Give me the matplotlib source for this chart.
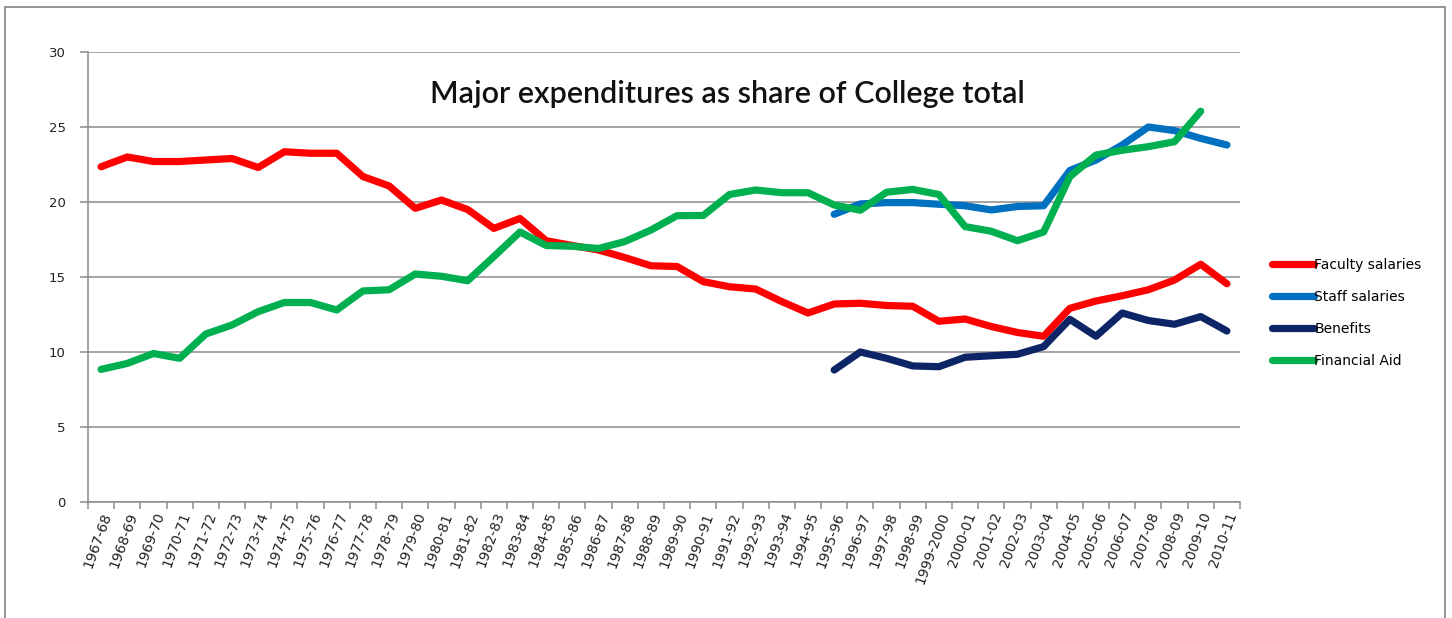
import numpy as np
import matplotlib.pyplot as plt
from matplotlib.patches import Rectangle

# academic years on the x axis
years = ["1967-68", "1968-69", "1969-70", "1970-71", "1971-72", "1972-73", "1973-74",
         "1974-75", "1975-76", "1976-77", "1977-78", "1978-79", "1979-80", "1980-81",
         "1981-82", "1982-83", "1983-84", "1984-85", "1985-86", "1986-87", "1987-88",
         "1988-89", "1989-90", "1990-91", "1991-92", "1992-93", "1993-94", "1994-95",
         "1995-96", "1996-97", "1997-98", "1998-99", "1999-2000", "2000-01", "2001-02",
         "2002-03", "2003-04", "2004-05", "2005-06", "2006-07", "2007-08", "2008-09",
         "2009-10", "2010-11"]

faculty = [22.35, 23.0, 22.7, 22.7, 22.8, 22.9, 22.3, 23.35, 23.25, 23.25, 21.7, 21.07,
           19.58, 20.13, 19.5, 18.24, 18.9, 17.42, 17.1, 16.8, 16.3, 15.75, 15.7, 14.69,
           14.35, 14.2, 13.36, 12.6, 13.2, 13.25, 13.1, 13.05, 12.05, 12.2, 11.7, 11.3,
           11.05, 12.91, 13.4, 13.75, 14.15, 14.8, 15.85, 14.55]

staff = [None] * 28 + [19.18, 19.87, 19.96, 19.96, 19.85, 19.75, 19.47, 19.7, 19.75,
                       22.1, 22.8, 23.8, 25.0, 24.76, 24.24, 23.8]

benefits = [None] * 28 + [8.8, 10.0, 9.58, 9.07, 9.02, 9.65, 9.75, 9.85, 10.36, 12.18,
                          11.05, 12.6, 12.1, 11.85, 12.36, 11.4]

aid = [8.84, 9.24, 9.9, 9.58, 11.2, 11.8, 12.69, 13.3, 13.3, 12.8, 14.07, 14.15, 15.2,
       15.05, 14.75, 16.36, 18.0, 17.1, 17.05, 16.9, 17.36, 18.13, 19.09, 19.1, 20.5,
       20.8, 20.62, 20.62, 19.8, 19.45, 20.65, 20.84, 20.5, 18.36, 18.05, 17.42, 18.0,
       21.69, 23.13, 23.45, 23.69, 24.02, 26.05, None]

series = [("Faculty salaries", faculty, "#FF0000"),
          ("Staff salaries", staff, "#0070C0"),
          ("Benefits", benefits, "#0D2466"),
          ("Financial Aid", aid, "#00B050")]

W, H = 1452, 618
fig = plt.figure(figsize=(W / 100, H / 100), dpi=100)
ax = fig.add_axes([88 / W, 1 - 502 / H, (1240 - 88) / W, (502 - 52) / H])

x = np.arange(len(years))
for name, vals, col in series:
    y = np.array([np.nan if v is None else v for v in vals], dtype=float)
    ax.plot(x, y, color=col, lw=5.2, solid_capstyle="round", solid_joinstyle="round",
            label=name)

ax.set_xlim(-0.5, len(years) - 0.5)
ax.set_ylim(0, 30)
ax.set_yticks(range(0, 31, 5))
ax.yaxis.grid(True, color="#8c8c8c", lw=1.1)
ax.set_axisbelow(True)
for s in ["top", "right"]:
    ax.spines[s].set_visible(False)
for s in ["left", "bottom"]:
    ax.spines[s].set_color("#8c8c8c")
    ax.spines[s].set_linewidth(1.1)

# category ticks at the boundaries, labels at the centres
ax.set_xticks(np.arange(len(years) + 1) - 0.5)
ax.set_xticklabels([])
ax.set_xticks(x, minor=True)
ax.set_xticklabels(years, minor=True, rotation=70, ha="right", rotation_mode="anchor",
                   fontsize=10, family="DejaVu Sans", color="#222222")
ax.tick_params(axis="x", which="major", length=5, color="#8c8c8c", width=1.1)
ax.tick_params(axis="x", which="minor", length=0, pad=6)
ax.tick_params(axis="y", length=6, color="#8c8c8c", width=1.1, labelsize=9.5,
               labelcolor="#222222", pad=10)

fig.text(727 / W, 1 - 94 / H, "Major expenditures as share of College total",
         ha="center", va="center", fontsize=22, family="Lato", fontweight="semibold",
         color="#111111")

leg = fig.legend(loc="upper left", bbox_to_anchor=(1265 / W, 1 - 251 / H), frameon=False,
                 fontsize=10, handlelength=3.0, handletextpad=0.05, labelspacing=1.3,
                 borderpad=0)

# outer chart-area border
fig.patches.append(Rectangle((5 / W, -0.05), 1440 / W, 1.05 - 7 / H,
                             transform=fig.transFigure, fill=False,
                             edgecolor="#8c8c8c", lw=1.3))

fig.savefig("out.png", dpi=100)
